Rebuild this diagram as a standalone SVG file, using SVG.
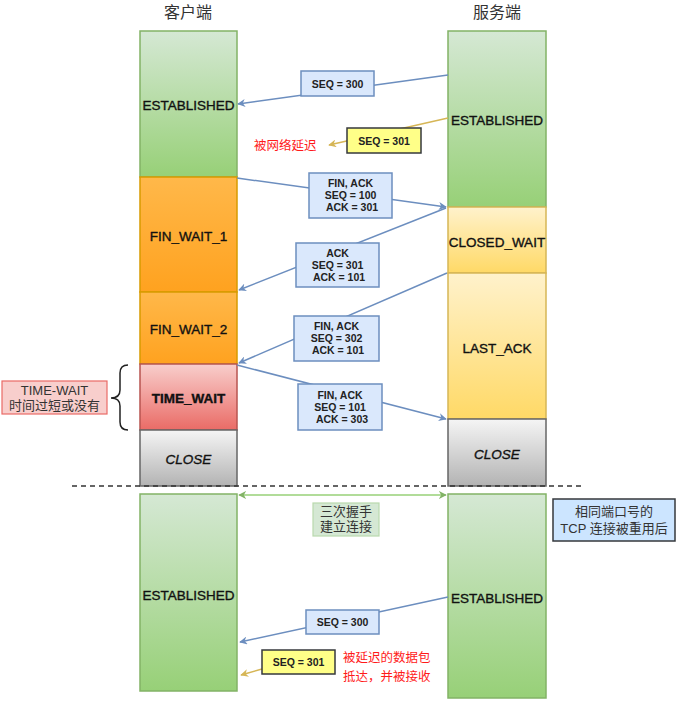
<svg xmlns="http://www.w3.org/2000/svg" width="688" height="702" viewBox="0 0 688 702">
<defs>
<linearGradient id="gGreen" x1="0" y1="0" x2="0" y2="1"><stop offset="0" stop-color="#d5e8d4"/><stop offset="1" stop-color="#97d077"/></linearGradient>
<linearGradient id="gOrange" x1="0" y1="0" x2="0" y2="1"><stop offset="0" stop-color="#ffb84a"/><stop offset="1" stop-color="#ffa21f"/></linearGradient>
<linearGradient id="gYellow" x1="0" y1="0" x2="0" y2="1"><stop offset="0" stop-color="#fff2cc"/><stop offset="1" stop-color="#ffd966"/></linearGradient>
<linearGradient id="gRed" x1="0" y1="0" x2="0" y2="1"><stop offset="0" stop-color="#f8cecc"/><stop offset="1" stop-color="#ea6b66"/></linearGradient>
<linearGradient id="gGray" x1="0" y1="0" x2="0" y2="1"><stop offset="0" stop-color="#f5f5f5"/><stop offset="1" stop-color="#b3b3b3"/></linearGradient>
<marker id="aBlue" viewBox="0 0 10 10" refX="9" refY="5" markerWidth="8" markerHeight="8" orient="auto-start-reverse" markerUnits="userSpaceOnUse"><path d="M0,0 L10,5 L0,10 L3,5 Z" fill="#6c8ebf"/></marker>
<marker id="aGold" viewBox="0 0 10 10" refX="9" refY="5" markerWidth="8" markerHeight="8" orient="auto-start-reverse" markerUnits="userSpaceOnUse"><path d="M0,0 L10,5 L0,10 L3,5 Z" fill="#d6b656"/></marker>
<marker id="aGreen" viewBox="0 0 10 10" refX="9" refY="5" markerWidth="8" markerHeight="8" orient="auto-start-reverse" markerUnits="userSpaceOnUse"><path d="M0,0 L10,5 L0,10 L3,5 Z" fill="#82b366"/></marker>
</defs>
<style>
.title{font-family:"Noto Sans CJK SC","Noto Sans",sans-serif;font-size:16px;fill:#333;text-anchor:middle}
.st{font-family:"Liberation Sans",sans-serif;font-size:13.5px;fill:#111;stroke:#111;stroke-width:0.35;text-anchor:middle;dominant-baseline:central}
.msg{font-family:"Liberation Sans",sans-serif;font-size:10.5px;font-weight:bold;fill:#222;text-anchor:middle}
.cn{font-family:"Liberation Sans","Noto Sans CJK SC",sans-serif;font-size:13px;fill:#333;text-anchor:middle}
.red{font-family:"Noto Sans CJK SC",sans-serif;font-size:12.5px;fill:#ff1a1a}
.green{fill:url(#gGreen);stroke:#82b366;stroke-width:1.5}
.orange{fill:url(#gOrange);stroke:#d79b00;stroke-width:1.5}
.yel{fill:url(#gYellow);stroke:#d6b656;stroke-width:1.5}
.pink{fill:url(#gRed);stroke:#b85450;stroke-width:1.5}
.gray{fill:url(#gGray);stroke:#666;stroke-width:1.5}
.mbox{fill:#dae8fc;stroke:#6c8ebf;stroke-width:1.5}
.ybox{fill:#ffff88;stroke:#36393d;stroke-width:1.5}
.blue{stroke:#6c8ebf;stroke-width:1.5;fill:none;marker-end:url(#aBlue)}
.gold{stroke:#d6b656;stroke-width:1.5;fill:none;marker-end:url(#aGold)}
</style>

<text class="title" x="188" y="18">客户端</text>
<text class="title" x="497" y="18">服务端</text>

<g id="c-established"><rect class="green" x="140" y="31" width="97" height="146"/><text class="st" x="188.5" y="105">ESTABLISHED</text></g>
<g id="c-finwait1"><rect class="orange" x="140" y="177" width="97" height="115"/><text class="st" x="188.5" y="236">FIN_WAIT_1</text></g>
<g id="c-finwait2"><rect class="orange" x="140" y="292" width="97" height="72"/><text class="st" x="188.5" y="329">FIN_WAIT_2</text></g>
<g id="c-timewait"><rect class="pink" x="140" y="364" width="97" height="66"/><text class="st" x="188.5" y="398" font-weight="bold">TIME_WAIT</text></g>
<g id="c-close"><rect class="gray" x="140" y="430" width="97" height="56"/><text class="st" x="188.5" y="459" font-style="italic">CLOSE</text></g>

<g id="s-established"><rect class="green" x="448" y="31" width="98" height="176"/><text class="st" x="497" y="120">ESTABLISHED</text></g>
<g id="s-closedwait"><rect class="yel" x="448" y="207" width="98" height="66"/><text class="st" x="497" y="242">CLOSED_WAIT</text></g>
<g id="s-lastack"><rect class="yel" x="448" y="273" width="98" height="146"/><text class="st" x="497" y="348">LAST_ACK</text></g>
<g id="s-close"><rect class="gray" x="448" y="419" width="98" height="67"/><text class="st" x="497" y="454" font-style="italic">CLOSE</text></g>

<g id="c-established2"><rect class="green" x="140" y="494" width="97" height="197"/><text class="st" x="188.5" y="595">ESTABLISHED</text></g>
<g id="s-established2"><rect class="green" x="448" y="494" width="98" height="204"/><text class="st" x="497" y="598">ESTABLISHED</text></g>

<line x1="72" y1="486" x2="585" y2="486" stroke="#333" stroke-width="1.5" stroke-dasharray="5,4"/>

<g id="connectors">
<line class="blue" x1="448" y1="75" x2="238" y2="104"/>
<line class="gold" x1="448" y1="118" x2="329" y2="145"/>
<line class="blue" x1="237" y1="178" x2="446" y2="207"/>
<line class="blue" x1="446" y1="208" x2="239" y2="290"/>
<line class="blue" x1="447" y1="273" x2="239" y2="363"/>
<line class="blue" x1="237" y1="365" x2="446" y2="419"/>
<line stroke="#97d077" stroke-width="1.5" marker-start="url(#aGreen)" marker-end="url(#aGreen)" x1="239" y1="495" x2="446" y2="495"/>
<line class="blue" x1="448" y1="597" x2="240" y2="642"/>
<line class="gold" x1="262" y1="669" x2="241" y2="675"/>
</g>

<g id="m-seq300"><rect class="mbox" x="301" y="71" width="73" height="25"/><text class="msg" x="337.5" y="87.5">SEQ = 300</text></g>
<g id="m-seq301"><rect class="ybox" x="347" y="128" width="74" height="25"/><text class="msg" x="384" y="144.5">SEQ = 301</text></g>
<text class="red" x="254" y="150">被网络延迟</text>

<g id="m-finack1"><rect class="mbox" x="309" y="173" width="83" height="45"/><text class="msg" x="350.5" y="187">FIN, ACK</text><text class="msg" x="350.5" y="199">SEQ = 100</text><text class="msg" x="352" y="211">ACK = 301</text></g>
<g id="m-ack"><rect class="mbox" x="296" y="243" width="83" height="44"/><text class="msg" x="337.5" y="257">ACK</text><text class="msg" x="337.5" y="269">SEQ = 301</text><text class="msg" x="339" y="281">ACK = 101</text></g>
<g id="m-finack2"><rect class="mbox" x="294" y="316" width="85" height="45"/><text class="msg" x="336.5" y="330">FIN, ACK</text><text class="msg" x="336.5" y="342">SEQ = 302</text><text class="msg" x="338" y="354">ACK = 101</text></g>
<g id="m-finack3"><rect class="mbox" x="298" y="384" width="84" height="46"/><text class="msg" x="340" y="399">FIN, ACK</text><text class="msg" x="340" y="411">SEQ = 101</text><text class="msg" x="342" y="423">ACK = 303</text></g>

<g id="tw-label"><rect x="2" y="381" width="105" height="33" fill="#f8cecc" stroke="#ea6b66" stroke-width="1.2"/><text class="cn" x="54.5" y="395">TIME-WAIT</text><text class="cn" x="54.5" y="410">时间过短或没有</text></g>
<path d="M128,365 Q120,365 120,373 L120,390 Q120,398 111,398 Q120,398 120,406 L120,422 Q120,430 128,430" fill="none" stroke="#222" stroke-width="1.5"/>

<g id="handshake"><rect x="313" y="503" width="66" height="33" fill="#d5e8d4" stroke="#b9d9ad" stroke-width="1.2"/><text class="cn" x="346" y="516">三次握手</text><text class="cn" x="346" y="531">建立连接</text></g>
<g id="reuse"><rect x="553" y="499" width="122" height="42" fill="#cce5ff" stroke="#36393d" stroke-width="1.5"/><text class="cn" x="614" y="516">相同端口号的</text><text class="cn" x="614" y="533">TCP 连接被重用后</text></g>

<g id="m-seq300b"><rect class="mbox" x="306" y="610" width="73" height="24"/><text class="msg" x="342.5" y="626">SEQ = 300</text></g>
<g id="m-seq301b"><rect class="ybox" x="262" y="650" width="73" height="24"/><text class="msg" x="298.5" y="666">SEQ = 301</text></g>
<text class="red" x="343" y="662">被延迟的数据包</text>
<text class="red" x="343" y="681">抵达，并被接收</text>
</svg>
